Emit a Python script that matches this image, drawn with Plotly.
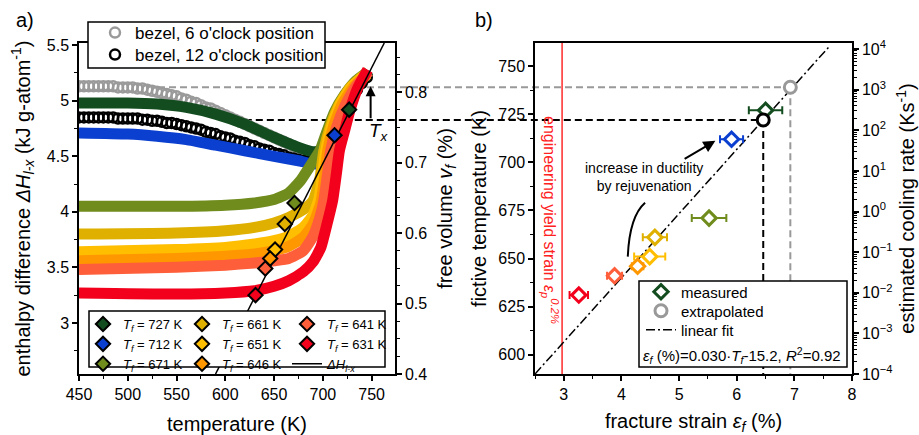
import plotly.graph_objects as go

W, H = 919, 435

# ---------------- panel a) data ----------------
T_bezel = [450, 455, 460, 465, 470, 475, 480, 485, 490, 495, 500, 505, 510, 515, 520,
           525, 530, 535, 540, 545, 550, 555, 560, 565, 570, 575, 580, 585, 590, 595,
           600, 605, 610, 615, 620, 625, 630, 635, 640, 645, 650, 655, 660, 665, 670,
           675, 680, 685, 690, 695, 700, 705, 710, 715, 720, 725, 730, 735, 740, 745]
H_bezel6 = [5.13, 5.13, 5.13, 5.13, 5.13, 5.13, 5.13, 5.13, 5.12, 5.12, 5.12, 5.12, 5.11, 5.11, 5.10,
            5.09, 5.08, 5.07, 5.06, 5.05, 5.04, 5.02, 5.01, 4.99, 4.98, 4.96, 4.94, 4.93, 4.91, 4.89,
            4.87, 4.85, 4.83, 4.81, 4.79, 4.77, 4.75, 4.73, 4.71, 4.69, 4.67, 4.65, 4.63, 4.61, 4.59,
            4.57, 4.55, 4.54, 4.53, 4.53, 4.55, 4.59, 4.66, 4.75, 4.85, 4.95, 5.04, 5.11, 5.17, 5.22]
H_bezel12 = [4.85, 4.85, 4.85, 4.85, 4.85, 4.85, 4.85, 4.85, 4.84, 4.84, 4.84, 4.84, 4.84, 4.83, 4.83,
             4.82, 4.82, 4.81, 4.80, 4.80, 4.79, 4.78, 4.77, 4.76, 4.75, 4.74, 4.72, 4.71, 4.70, 4.68,
             4.67, 4.66, 4.64, 4.63, 4.62, 4.60, 4.59, 4.57, 4.56, 4.55, 4.53, 4.52, 4.51, 4.49, 4.48,
             4.47, 4.46, 4.45, 4.44, 4.44, 4.46, 4.51, 4.59, 4.69, 4.81, 4.92, 5.02, 5.10, 5.16, 5.21]

T_727 = [450, 500, 530, 560, 590, 620, 650, 675, 690, 700, 710, 720, 730, 740, 747]
H_727 = [4.98, 4.98, 4.97, 4.94, 4.88, 4.79, 4.67, 4.58, 4.54, 4.56, 4.66, 4.85, 5.03, 5.18, 5.27]
T_712 = [450, 500, 530, 560, 590, 620, 650, 675, 692, 700, 706, 712, 720, 730, 740, 746]
H_712 = [4.71, 4.70, 4.68, 4.65, 4.60, 4.55, 4.50, 4.46, 4.43, 4.47, 4.57, 4.70, 4.88, 5.06, 5.20, 5.26]
T_671 = [450, 550, 600, 630, 650, 665, 677, 686, 697, 704, 712, 722, 734, 746]
H_671 = [4.05, 4.05, 4.06, 4.08, 4.11, 4.17, 4.28, 4.40, 4.55, 4.72, 4.90, 5.05, 5.18, 5.26]
T_661 = [450, 550, 600, 630, 650, 665, 680, 690, 697, 701, 707, 716, 728, 746]
H_661 = [3.80, 3.81, 3.83, 3.86, 3.90, 3.95, 4.02, 4.10, 4.30, 4.55, 4.75, 4.95, 5.12, 5.26]
T_651 = [450, 550, 600, 630, 650, 665, 680, 690, 696, 700, 703, 709, 718, 730, 746]
H_651 = [3.64, 3.66, 3.68, 3.71, 3.74, 3.78, 3.86, 3.97, 4.12, 4.35, 4.55, 4.77, 4.97, 5.13, 5.25]
T_646 = [450, 550, 600, 630, 650, 665, 680, 690, 698, 702, 705, 711, 720, 732, 746]
H_646 = [3.56, 3.58, 3.60, 3.62, 3.65, 3.69, 3.77, 3.89, 4.08, 4.32, 4.55, 4.77, 4.97, 5.13, 5.24]
T_641 = [450, 550, 600, 630, 650, 665, 680, 690, 697, 701, 705, 708, 714, 723, 734, 747]
H_641 = [3.48, 3.50, 3.52, 3.54, 3.56, 3.58, 3.65, 3.78, 3.95, 4.10, 4.35, 4.55, 4.76, 4.96, 5.13, 5.26]
T_631 = [450, 550, 600, 630, 650, 665, 680, 690, 698, 704, 710, 714, 717, 722, 728, 736, 746]
H_631 = [3.27, 3.26, 3.27, 3.29, 3.33, 3.38, 3.46, 3.55, 3.68, 3.88, 4.10, 4.35, 4.55, 4.72, 4.92, 5.12, 5.28]

Tf_vals = [727, 712, 671, 661, 651, 646, 641, 631]
H_diamond = [4.92, 4.69, 4.08, 3.89, 3.66, 3.58, 3.49, 3.25]
colors = ['#134d1f', '#0b3fd0', '#6f8c1d', '#dfb000', '#ffbe00', '#ff9800', '#ff5e3a', '#f2001c']
curves_T = [T_727, T_712, T_671, T_661, T_651, T_646, T_641, T_631]
curves_H = [H_727, H_712, H_671, H_661, H_651, H_646, H_641, H_631]

dH_T = [590, 763]          # enthalpy difference line ΔH_l-x
dH_H = [2.54, 5.52]

Tx_T = 749                 # crystallisation temperature arrow
bezel_H = [5.13, 4.83]     # 6 o'clock, 12 o'clock levels

# ---------------- panel b) data ----------------
eps_meas = [6.50, 5.91, 5.52, 4.58, 4.49, 4.28, 3.88, 3.26]
eps_err = [0.29, 0.20, 0.30, 0.21, 0.27, 0.10, 0.13, 0.16]
eps_extra = [6.93, 6.46]
Tf_extra = [739, 722]
fit_eps = [2.5, 7.6]
fit_Tf = [590, 760]
yield_strain = 2.97

# ---------------- geometry ----------------
xdomL = [79 / W, 395 / W]
xdomR = [535 / W, 852 / W]
ydom = [1 - 374 / H, 1 - 43 / H]
xrL = [450, 774]
xrR = [2.5, 8.0]


def xL_paper(v):
    return xdomL[0] + (v - xrL[0]) / (xrL[1] - xrL[0]) * (xdomL[1] - xdomL[0])


def xR_paper(v):
    return xdomR[0] + (v - xrR[0]) / (xrR[1] - xrR[0]) * (xdomR[1] - xdomR[0])


fig = go.Figure()

# bezel curves (open circles)
fig.add_trace(go.Scatter(x=T_bezel, y=H_bezel6, mode='markers', name="bezel, 6 o'clock position",
                         marker=dict(symbol='circle-open', size=10, color='#9a9a9a', line=dict(width=2.5)),
                         legend='legend', xaxis='x', yaxis='y'))
fig.add_trace(go.Scatter(x=T_bezel, y=H_bezel12, mode='markers', name="bezel, 12 o'clock position",
                         marker=dict(symbol='circle-open', size=10, color='black', line=dict(width=2.5)),
                         legend='legend6', xaxis='x', yaxis='y'))

# thick enthalpy curves
for tx, hy, c in zip(curves_T, curves_H, colors):
    fig.add_trace(go.Scatter(x=tx, y=hy, mode='lines', showlegend=False,
                             line=dict(color=c, width=11, shape='spline', smoothing=0.5),
                             xaxis='x', yaxis='y'))

# ΔH_l-x line
fig.add_trace(go.Scatter(x=dH_T, y=dH_H, mode='lines', name='<i>ΔH</i><sub><i>l-x</i></sub>',
                         line=dict(color='black', width=1.5), legend='legend4', legendrank=2000,
                         xaxis='x', yaxis='y'))

# diamonds
leg_cols = ['legend2', 'legend2', 'legend2', 'legend3', 'legend3', 'legend3', 'legend4', 'legend4']
for i, (tf, hd, c) in enumerate(zip(Tf_vals, H_diamond, colors)):
    fig.add_trace(go.Scatter(x=[tf], y=[hd], mode='markers',
                             name=f'<i>T</i><sub><i>f</i></sub> = {tf} K',
                             marker=dict(symbol='diamond', size=11, color=c, line=dict(color='black', width=2)),
                             legend=leg_cols[i], legendrank=i + 1, xaxis='x', yaxis='y'))

# free-volume axis carrier
fig.add_trace(go.Scatter(x=[], y=[], showlegend=False, xaxis='x', yaxis='y2'))

# ---------- panel b ----------
fig.add_trace(go.Scatter(x=fit_eps, y=fit_Tf, mode='lines', name='linear fit',
                         line=dict(color='black', width=1.5, dash='9px,3px,2px,3px'),
                         legend='legend8', xaxis='x2', yaxis='y3'))
for i, (e, er, tf, c) in enumerate(zip(eps_meas, eps_err, Tf_vals, colors)):
    fig.add_trace(go.Scatter(x=[e], y=[tf], mode='markers', name='measured', showlegend=(i == 0),
                             error_x=dict(type='data', array=[er], color=c, thickness=2, width=4),
                             marker=dict(symbol='diamond', size=11, color='white', line=dict(color=c, width=3)),
                             legend='legend5', xaxis='x2', yaxis='y3'))
fig.add_trace(go.Scatter(x=[eps_extra[0]], y=[Tf_extra[0]], mode='markers', name='extrapolated',
                         marker=dict(symbol='circle', size=12, color='white', line=dict(color='#999999', width=3)),
                         legend='legend7', xaxis='x2', yaxis='y3'))
fig.add_trace(go.Scatter(x=[eps_extra[1]], y=[Tf_extra[1]], mode='markers', showlegend=False,
                         marker=dict(symbol='circle', size=12, color='white', line=dict(color='black', width=3)),
                         xaxis='x2', yaxis='y3'))
fig.add_trace(go.Scatter(x=[], y=[], showlegend=False, xaxis='x2', yaxis='y4'))

# ---------------- shapes ----------------
shapes = []
dash = '7px,4px'
shapes.append(dict(type='line', xref='paper', yref='y3', x0=xL_paper(531), x1=xR_paper(eps_extra[0]),
                   y0=Tf_extra[0], y1=Tf_extra[0], line=dict(color='#999999', width=2, dash=dash), layer='below'))
shapes.append(dict(type='line', xref='paper', yref='y3', x0=xL_paper(620), x1=xR_paper(eps_extra[1]),
                   y0=Tf_extra[1], y1=Tf_extra[1], line=dict(color='black', width=2, dash=dash), layer='below'))
shapes.append(dict(type='line', xref='x2', yref='y3', x0=eps_extra[0], x1=eps_extra[0], y0=Tf_extra[0], y1=590,
                   line=dict(color='#999999', width=2, dash=dash), layer='below'))
shapes.append(dict(type='line', xref='x2', yref='y3', x0=eps_extra[1], x1=eps_extra[1], y0=Tf_extra[1], y1=590,
                   line=dict(color='black', width=2, dash=dash), layer='below'))
shapes.append(dict(type='line', xref='x2', yref='y3 domain', x0=yield_strain, x1=yield_strain, y0=0, y1=1,
                   line=dict(color='#ff2a2a', width=1.5), layer='below'))
# curved arrow (lower part)
shapes.append(dict(type='path', xref='x2', yref='y3', path='M 4.11,651 Q 4.14,672 4.41,679',
                   line=dict(color='black', width=2), layer='above'))
# legend boxes
shapes.append(dict(type='rect', xref='paper', yref='paper', x0=88 / W, x1=325 / W, y0=1 - 68 / H, y1=1 - 22 / H,
                   fillcolor='white', line=dict(color='black', width=1.5), layer='above'))
shapes.append(dict(type='rect', xref='paper', yref='paper', x0=89 / W, x1=385 / W, y0=1 - 367 / H, y1=1 - 311 / H,
                   fillcolor='white', line=dict(color='black', width=1.5), layer='above'))
shapes.append(dict(type='rect', xref='paper', yref='paper', x0=639 / W, x1=847 / W, y0=1 - 367 / H, y1=1 - 281 / H,
                   fillcolor='white', line=dict(color='black', width=1.5), layer='above'))

# ---------------- annotations ----------------
ann = []
ann.append(dict(x=Tx_T, y=bezel_H[0], ax=Tx_T, ay=bezel_H[1], xref='x', yref='y', axref='x', ayref='y',
                text='', showarrow=True, arrowhead=2, arrowsize=1, arrowwidth=2, arrowcolor='black'))
ann.append(dict(x=758, y=4.72, xref='x', yref='y', text='<i>T</i><sub><i>x</i></sub>', showarrow=False,
                font=dict(size=19, color='black')))
ann.append(dict(x=25 / W, y=1 - 20 / H, xref='paper', yref='paper', text='a)', showarrow=False,
                xanchor='center', yanchor='middle', font=dict(size=20, color='black')))
ann.append(dict(x=484 / W, y=1 - 20 / H, xref='paper', yref='paper', text='b)', showarrow=False,
                xanchor='center', yanchor='middle', font=dict(size=20, color='black')))
ann.append(dict(x=2.76, y=670, xref='x2', yref='y3', textangle=90, showarrow=False,
                text='engineering yield strain <i>ε</i><sub><i>p</i></sub><sup><i>0.2%</i></sup>',
                font=dict(size=16, color='#ff2020')))
ann.append(dict(x=4.39, y=692.5, xref='x2', yref='y3', showarrow=False,
                text='increase in ductility<br>by rejuvenation', font=dict(size=14, color='black')))
ann.append(dict(x=5.63, y=711.2, ax=5.07, ay=701.3, xref='x2', yref='y3', axref='x2', ayref='y3',
                text='', showarrow=True, arrowhead=2, arrowsize=1.2, arrowwidth=2, arrowcolor='black'))
ann.append(dict(x=742 / W, y=1 - 355 / H, xref='paper', yref='paper', showarrow=False,
                xanchor='center', yanchor='middle',
                text='<i>ε</i><sub><i>f</i></sub> (%)=0.030·<i>T</i><sub><i>f</i></sub>-15.2, <i>R</i><sup>2</sup>=0.92',
                font=dict(size=15, color='black')))

axis_common = dict(showline=True, linewidth=1.5, linecolor='black', ticks='outside', ticklen=5, tickwidth=1.5,
                   tickcolor='black', showgrid=False, zeroline=False, tickfont=dict(size=16, color='black'),
                   automargin=False)
minor_common = dict(ticks='outside', ticklen=3, tickwidth=1.2, tickcolor='black', showgrid=False)


def single_legend(px_x, px_y, size):
    return dict(x=px_x / W, y=1 - px_y / H, xanchor='left', yanchor='middle', bgcolor='rgba(0,0,0,0)',
                borderwidth=0, font=dict(size=size))


fig.update_layout(
    width=W, height=H, margin=dict(l=0, r=0, t=0, b=0),
    paper_bgcolor='white', plot_bgcolor='rgba(0,0,0,0)',
    font=dict(family='Liberation Sans, Arial, sans-serif', color='black'),
    hovermode=False,
    xaxis=dict(axis_common, domain=xdomL, range=xrL, tick0=450, dtick=50, mirror=True, anchor='y',
               minor=dict(minor_common, dtick=25),
               title=dict(text='temperature (K)', font=dict(size=20), standoff=15)),
    yaxis=dict(axis_common, domain=ydom, range=[2.54, 5.52], tick0=0, dtick=0.5, anchor='x',
               minor=dict(minor_common, dtick=0.25),
               title=dict(text='enthalpy difference <i>ΔH</i><sub><i>l-x</i></sub> (kJ g-atom<sup>-1</sup>)',
                          font=dict(size=20), standoff=11)),
    yaxis2=dict(axis_common, domain=ydom, range=[0.4, 0.87], tick0=0.4, dtick=0.1, overlaying='y', side='right',
                anchor='x', minor=dict(minor_common, dtick=0.025),
                title=dict(text='free volume <i>v</i><sub><i>f</i></sub> (%)', font=dict(size=20), standoff=12)),
    xaxis2=dict(axis_common, domain=xdomR, range=xrR, tick0=0, dtick=1, mirror=True, anchor='y3',
                minor=dict(minor_common, dtick=0.5),
                title=dict(text='fracture strain <i>ε</i><sub><i>f</i></sub> (%)', font=dict(size=20), standoff=13)),
    yaxis3=dict(axis_common, domain=ydom, range=[590, 762], tick0=600, dtick=25, anchor='x2',
                minor=dict(minor_common, dtick=12.5),
                title=dict(text='fictive temperature (K)', font=dict(size=20), standoff=6)),
    yaxis4=dict(axis_common, domain=ydom, type='log', range=[-4, 4.15], overlaying='y3', side='right', anchor='x2',
                tickvals=[1e-4, 1e-3, 1e-2, 1e-1, 1, 10, 100, 1e3, 1e4],
                ticktext=['10<sup>−4</sup>', '10<sup>−3</sup>', '10<sup>−2</sup>', '10<sup>−1</sup>',
                          '10<sup>0</sup>', '10<sup>1</sup>', '10<sup>2</sup>', '10<sup>3</sup>', '10<sup>4</sup>'],
                minor=dict(minor_common, dtick='D1'),
                title=dict(text='estimated cooling rate (Ks<sup>-1</sup>)', font=dict(size=20), standoff=8)),
    legend=single_legend(95, 33, 17),
    legend6=single_legend(95, 55, 17),
    legend2=dict(x=83 / W, y=1 - 309 / H, xanchor='left', yanchor='top', bgcolor='rgba(0,0,0,0)', borderwidth=0,
                 font=dict(size=13)),
    legend3=dict(x=182 / W, y=1 - 309 / H, xanchor='left', yanchor='top', bgcolor='rgba(0,0,0,0)', borderwidth=0,
                 font=dict(size=13)),
    legend4=dict(x=287 / W, y=1 - 309 / H, xanchor='left', yanchor='top', bgcolor='rgba(0,0,0,0)', borderwidth=0,
                 font=dict(size=13)),
    legend5=single_legend(641, 292, 15),
    legend7=single_legend(641, 311, 15),
    legend8=single_legend(641, 330, 15),
    shapes=shapes,
    annotations=ann,
)

fig.write_html('out.html', config={'displayModeBar': False},
               post_script="document.body.style.margin='0px';")
